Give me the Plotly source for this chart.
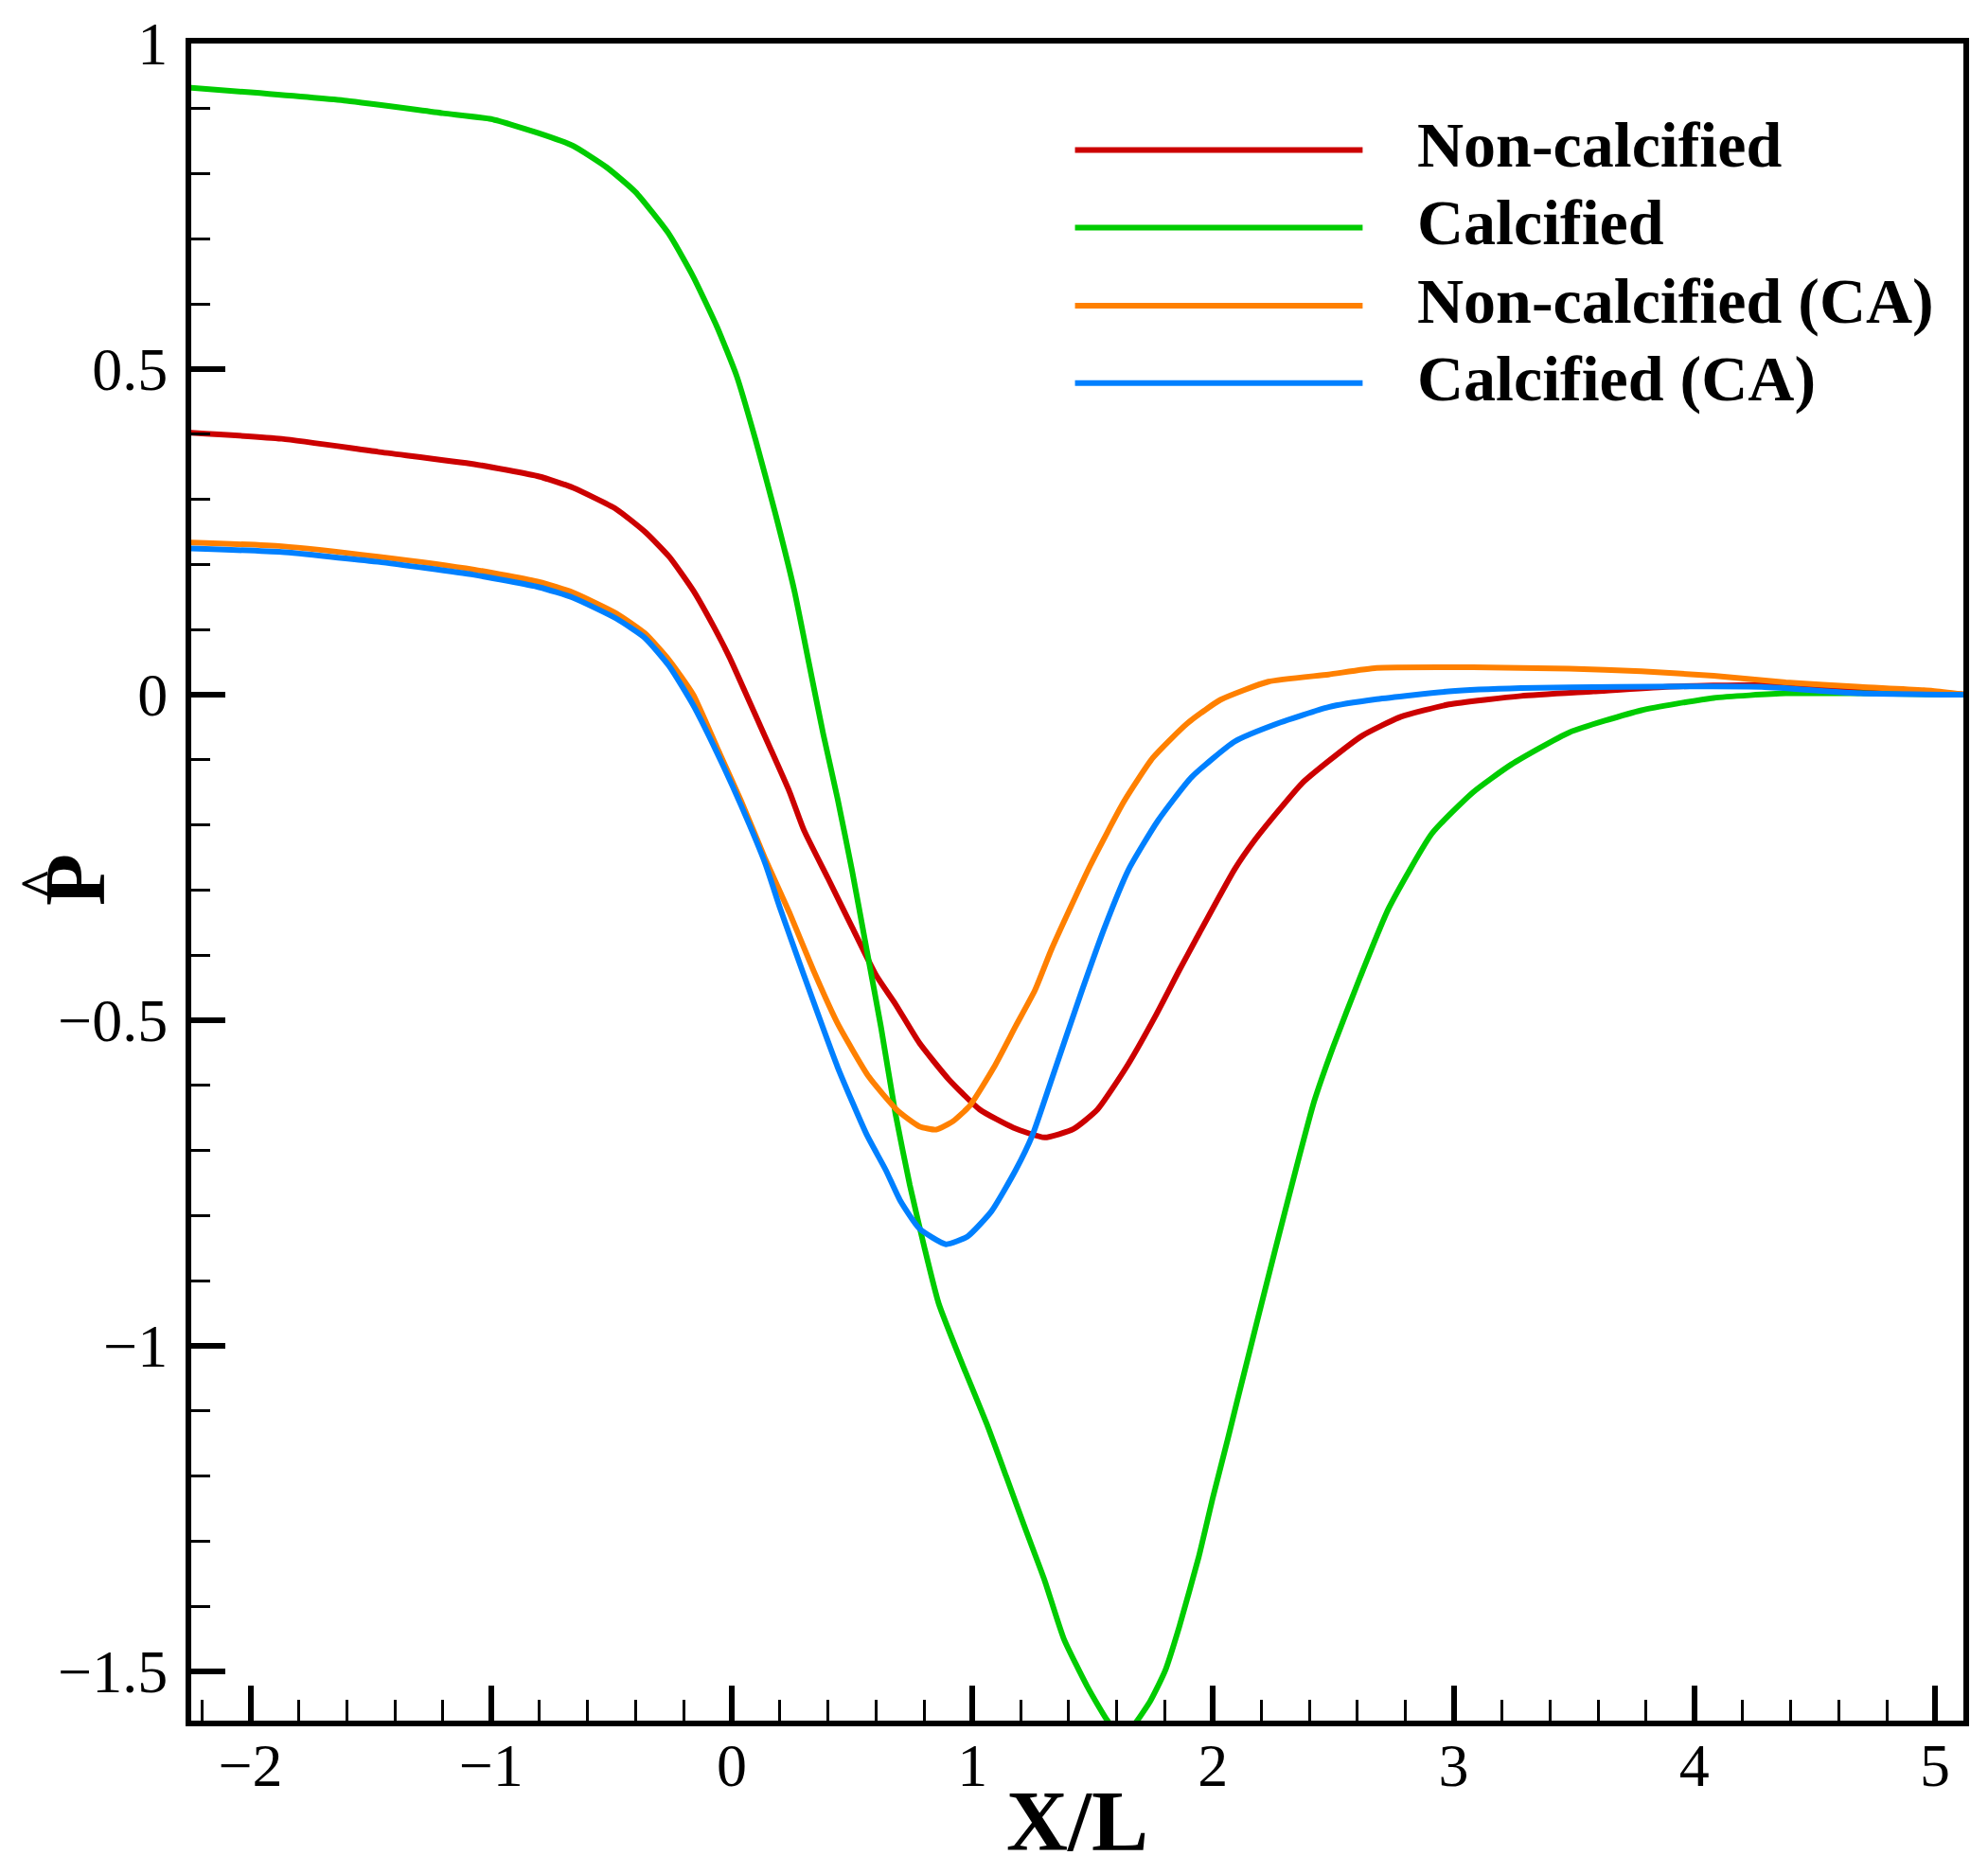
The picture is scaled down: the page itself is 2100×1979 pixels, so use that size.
import plotly.graph_objects as go

# ---------------- data ----------------
x_noncalc = [-2.276, -1.87, -1.47, -1.07, -0.80, -0.66, -0.48, -0.36, -0.26, -0.16, -0.08, -0.01,
             0.08, 0.16, 0.24, 0.30, 0.40, 0.50, 0.60, 0.68, 0.78, 0.90, 1.03, 1.17, 1.30, 1.42,
             1.52, 1.64, 1.76, 1.86, 1.93, 2.09, 2.17, 2.27, 2.37, 2.48, 2.62, 2.78, 2.98, 3.28,
             3.58, 3.88, 4.28, 4.69, 5.13]
y_noncalc = [0.403, 0.393, 0.373, 0.354, 0.335, 0.318, 0.285, 0.250, 0.212, 0.160, 0.108, 0.058,
             -0.016, -0.082, -0.149, -0.208, -0.282, -0.357, -0.431, -0.475, -0.535, -0.590, -0.637,
             -0.665, -0.680, -0.667, -0.637, -0.572, -0.494, -0.423, -0.375, -0.268, -0.225, -0.179,
             -0.136, -0.102, -0.063, -0.034, -0.015, -0.002, 0.005, 0.012, 0.015, 0.007, 0.0]

x_calc = [-2.276, -2.0, -1.6, -1.2, -1.0, -0.8, -0.66, -0.52, -0.40, -0.26, -0.16, -0.06, 0.02,
          0.10, 0.18, 0.26, 0.32, 0.38, 0.44, 0.50, 0.56, 0.62, 0.68, 0.74, 0.80, 0.86, 0.96,
          1.06, 1.14, 1.22, 1.30, 1.38, 1.48, 1.56, 1.62, 1.68, 1.74, 1.80, 1.86, 1.94, 2.00,
          2.06, 2.10, 2.18, 2.26, 2.34, 2.42, 2.50, 2.61, 2.73, 2.91, 3.08, 3.24, 3.48, 3.78,
          4.08, 4.38, 4.69, 5.13]
y_calc = [0.933, 0.925, 0.912, 0.893, 0.884, 0.862, 0.843, 0.810, 0.772, 0.707, 0.642, 0.564, 0.490,
          0.39, 0.28, 0.16, 0.05, -0.06, -0.16, -0.27, -0.39, -0.51, -0.643, -0.753, -0.848, -0.935,
          -1.030, -1.120, -1.200, -1.281, -1.360, -1.450, -1.525, -1.575, -1.60, -1.578, -1.545,
          -1.500, -1.431, -1.325, -1.232, -1.145, -1.085, -0.967, -0.850, -0.735, -0.625, -0.540,
          -0.435, -0.328, -0.213, -0.150, -0.107, -0.058, -0.024, -0.005, 0.002, 0.002, 0.0]

x_noncalc_ca = [-2.276, -1.87, -1.47, -1.07, -0.80, -0.66, -0.48, -0.36, -0.26, -0.16, -0.06, 0.04,
                0.14, 0.24, 0.34, 0.44, 0.57, 0.69, 0.78, 0.85, 0.92, 0.99, 1.09, 1.18, 1.26, 1.33,
                1.49, 1.63, 1.75, 1.89, 2.03, 2.23, 2.48, 2.68, 3.08, 3.48, 3.78, 4.08, 4.38, 4.69,
                4.99, 5.13]
y_noncalc_ca = [0.234, 0.228, 0.212, 0.192, 0.173, 0.157, 0.125, 0.094, 0.053, 0.0, -0.082, -0.164,
                -0.253, -0.335, -0.424, -0.505, -0.587, -0.639, -0.663, -0.668, -0.655, -0.631,
                -0.572, -0.509, -0.454, -0.390, -0.262, -0.164, -0.097, -0.045, -0.008, 0.020,
                0.031, 0.041, 0.042, 0.040, 0.036, 0.029, 0.019, 0.012, 0.006, 0.0]

x_calc_ca = [-2.276, -1.87, -1.47, -1.07, -0.80, -0.66, -0.48, -0.36, -0.26, -0.16, -0.06, 0.04,
             0.14, 0.20, 0.30, 0.44, 0.56, 0.64, 0.70, 0.78, 0.89, 0.98, 1.08, 1.18, 1.25, 1.33,
             1.45, 1.55, 1.65, 1.77, 1.91, 2.09, 2.27, 2.48, 2.68, 2.98, 3.28, 3.68, 4.28, 4.69, 5.13]
y_calc_ca = [0.225, 0.219, 0.204, 0.184, 0.165, 0.149, 0.117, 0.087, 0.044, -0.016, -0.090, -0.171,
             -0.260, -0.327, -0.431, -0.572, -0.675, -0.730, -0.777, -0.820, -0.844, -0.832, -0.793,
             -0.730, -0.676, -0.590, -0.46, -0.357, -0.268, -0.194, -0.127, -0.072, -0.044, -0.019,
             -0.007, 0.005, 0.010, 0.012, 0.012, 0.002, 0.0]

series_names = ["Non-calcified", "Calcified", "Non-calcified (CA)", "Calcified (CA)"]
series_colors = ["#CC0000", "#00CC00", "#FF8000", "#0080FF"]

# ---------------- figure ----------------
FONT = "Liberation Serif, Times New Roman, serif"
series = [(x_noncalc, y_noncalc), (x_calc, y_calc), (x_noncalc_ca, y_noncalc_ca), (x_calc_ca, y_calc_ca)]

fig = go.Figure()
for (xs, ys), name, col in zip(series, series_names, series_colors):
    fig.add_trace(go.Scatter(x=xs, y=ys, mode="lines", name=name,
                             line=dict(color=col, width=6, shape="spline", smoothing=0.5),
                             showlegend=False))

# custom legend (long line samples as in the reference)
leg_rows = [0.9365, 0.8903, 0.8437, 0.7975]
for yr, name, col in zip(leg_rows, series_names, series_colors):
    fig.add_shape(type="line", xref="paper", yref="paper", x0=0.4987, x1=0.661, y0=yr, y1=yr,
                  line=dict(color=col, width=6))
    fig.add_annotation(xref="paper", yref="paper", x=0.6905, y=yr + 0.003, text="<b>%s</b>" % name,
                       showarrow=False, xanchor="left", yanchor="middle",
                       font=dict(family=FONT, size=68, color="black"))

# axis titles
fig.add_annotation(xref="paper", yref="paper", x=0.5, y=-0.06, text="<b>X/L</b>",
                   showarrow=False, xanchor="center", yanchor="middle",
                   font=dict(family=FONT, size=90, color="black"))
# y title: bold P with a hat, rotated
fig.add_annotation(xref="paper", yref="paper", x=-0.0657, y=0.5011, text="<b>P</b>",
                   showarrow=False, xanchor="center", yanchor="middle", textangle=-90,
                   font=dict(family=FONT, size=90, color="black"))
fig.add_annotation(xref="paper", yref="paper", x=-0.0855, y=0.4994, text="<b>^</b>",
                   showarrow=False, xanchor="center", yanchor="middle", textangle=-90,
                   borderpad=0,
                   font=dict(family=FONT, size=56, color="black"))

fig.update_layout(
    width=2100, height=1979,
    margin=dict(l=202, r=26, t=46, b=161),
    paper_bgcolor="white", plot_bgcolor="white",
    font=dict(family=FONT, size=64, color="black"),
    xaxis=dict(range=[-2.246, 5.118], showgrid=False, zeroline=False,
               showline=True, linewidth=6, linecolor="black", mirror=True,
               ticks="inside", ticklen=37, tickwidth=6, tickcolor="black",
               tick0=0, dtick=1, tickfont=dict(family=FONT, size=64, color="black"),
               ticklabelstandoff=-14,
               minor=dict(ticks="inside", ticklen=22, tickwidth=3, tickcolor="black",
                          tick0=0, dtick=0.2, showgrid=False)),
    yaxis=dict(range=[-1.5756, 1.0], showgrid=False, zeroline=False,
               showline=True, linewidth=6, linecolor="black", mirror=True,
               ticks="inside", ticklen=36, tickwidth=6, tickcolor="black",
               tick0=0, dtick=0.5, tickfont=dict(family=FONT, size=64, color="black"),
               ticklabelstandoff=6,
               minor=dict(ticks="inside", ticklen=20, tickwidth=3, tickcolor="black",
                          tick0=0, dtick=0.1, showgrid=False)),
)

fig.write_html("out.html")
